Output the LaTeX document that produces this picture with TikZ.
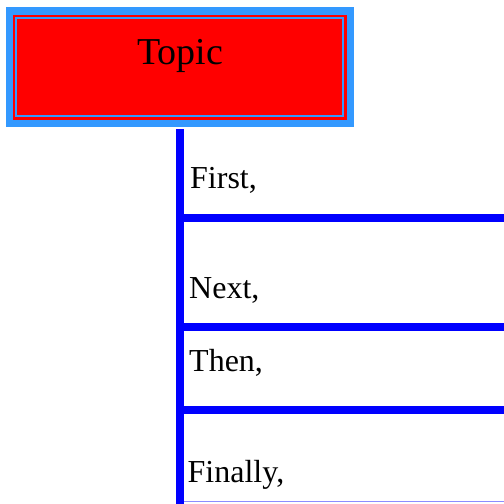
\documentclass[tikz,border=0pt]{standalone}
\usepackage{fontspec}
\setmainfont{Liberation Serif}
\definecolor{lblue}{HTML}{3399FF}
\begin{document}
\begin{tikzpicture}[x=1pt,y=-1pt,
  bar/.style={draw=blue,line width=8pt},
  item/.style={anchor=base west,inner sep=0pt,font=\fontsize{32}{38}\selectfont}]
\useasboundingbox (0,0) rectangle (504,504);
\clip (0,0) rectangle (504,504);
% topic box
\fill[lblue] (6,7) rectangle (354,127);
\fill[red] (13.3,15) rectangle (346.7,119.5);
\draw[lblue,line width=2pt] (16.3,18) rectangle (343,116);
\node[anchor=base,inner sep=0pt,font=\fontsize{38}{44}\selectfont] (topic) at (180,64) {Topic};
% spine and separators
\coordinate (top) at (180,129);
\coordinate (bot) at (180,510);
\coordinate (s1) at (180,217.5);
\coordinate (s1e) at (510,217.5);
\coordinate (s2) at (180,326.5);
\coordinate (s2e) at (510,326.5);
\coordinate (s3) at (180,409.5);
\coordinate (s3e) at (510,409.5);
\coordinate (s4) at (180,501.5);
\coordinate (s4e) at (510,501.5);
\draw[bar] (s1) -- (s1e);
\draw[bar] (s2) -- (s2e);
\draw[bar] (s3) -- (s3e);
\draw[blue!45,line width=1pt] (s4) -- (s4e);
\draw[bar] (top) -- (bot);
% items
\node[item] (first) at (190,188.3) {First,};
\node[item] (next) at (189,298.3) {Next,};
\node[item] (then) at (189,371.7) {Then,};
\node[item] (finally) at (187.5,482.7) {Finally,};
\end{tikzpicture}
\end{document}
